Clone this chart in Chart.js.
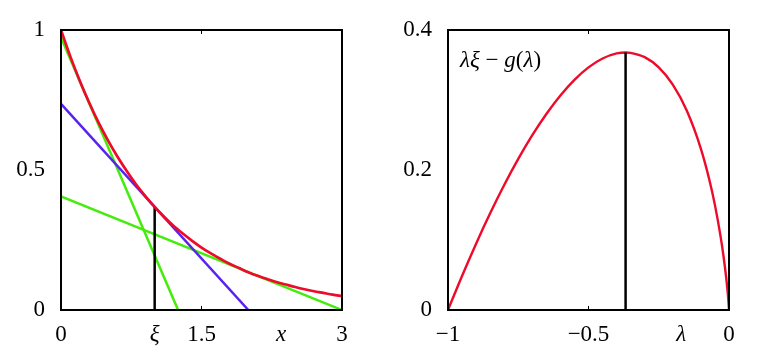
<!DOCTYPE html>
<html>
<head>
<meta charset="utf-8">
<script src="https://cdn.jsdelivr.net/npm/chart.js@4"></script>
<style>
  html, body { margin: 0; padding: 0; background: #fff; }
  body { width: 771px; height: 353px; position: relative; overflow: hidden; }
  .panel { position: absolute; top: 0; height: 353px; }
  #left { left: 0; width: 385px; }
  #right { left: 385px; width: 386px; }
</style>
</head>
<body>
<div class="panel" id="left"><canvas id="cLeft"></canvas></div>
<div class="panel" id="right"><canvas id="cRight"></canvas></div>
<script>
// ---- data: left panel, exp(-x) and its tangent lines ----
const curveX = [0, 0.1, 0.2, 0.3, 0.4, 0.5, 0.6, 0.7, 0.8, 0.9, 1.0, 1.1, 1.2, 1.3, 1.4, 1.5,
  1.6, 1.7, 1.8, 1.9, 2.0, 2.1, 2.2, 2.3, 2.4, 2.5, 2.6, 2.7, 2.8, 2.9, 3.0];
const curveY = [1.000, 0.905, 0.819, 0.741, 0.670, 0.607, 0.549, 0.497, 0.449, 0.407, 0.368, 0.333,
  0.301, 0.273, 0.247, 0.223, 0.202, 0.183, 0.165, 0.150, 0.135, 0.122, 0.111, 0.100, 0.091,
  0.082, 0.074, 0.067, 0.061, 0.055, 0.050];
const greenSteepX = [0, 1.25];
const greenSteepY = [0.973, 0];
const blueX = [0, 2];
const blueY = [0.736, 0];
const greenFlatX = [0, 3];
const greenFlatY = [0.406, 0];
const xiMarkX = [1, 1];
const xiMarkY = [0, 0.368];
const leftTicksX = [0, 1, 1.5, 2.35, 3];
const leftTickLabelsX = ['0', 'ξ', '1.5', 'x', '3'];
const leftTicksY = [0, 0.5, 1];
const leftTickLabelsY = ['0', '0.5', '1'];

// ---- data: right panel, lambda*xi - g(lambda) ----
const lambdaX = [-1, -0.95, -0.9, -0.85, -0.8, -0.75, -0.7, -0.65, -0.6, -0.55, -0.5, -0.45, -0.4,
  -0.368, -0.35, -0.3, -0.25, -0.2, -0.15, -0.1, -0.07, -0.05, -0.03, -0.02, -0.01, -0.005, -0.002, 0];
const lambdaY = [0, 0.0487, 0.0948, 0.1381, 0.1785, 0.2158, 0.2497, 0.2800, 0.3065, 0.3288, 0.3466,
  0.3593, 0.3665, 0.3679, 0.3674, 0.3612, 0.3466, 0.3219, 0.2846, 0.2303, 0.1861, 0.1498, 0.1052,
  0.0782, 0.0461, 0.0265, 0.0124, 0];
const lambdaMarkX = [-0.368, -0.368];
const lambdaMarkY = [0, 0.368];
const rightTicksX = [-1, -0.5, -0.17, 0];
const rightTickLabelsX = ['−1', '−0.5', 'λ', '0'];
const rightTicksY = [0, 0.2, 0.4];
const rightTickLabelsY = ['0', '0.2', '0.4'];

const RED = '#ee0a2a', GREEN = '#44ec0c', BLUE = '#5a22ee';
const SERIF = '"Liberation Serif", "DejaVu Serif", serif';
const FONT_SIZE = 23;

const pts = (xs, ys) => xs.map((x, i) => ({ x, y: ys[i] }));

function line(xs, ys, color, width) {
  return { data: pts(xs, ys), borderColor: color, borderWidth: width,
    pointRadius: 0, fill: false, tension: 0, showLine: true };
}

// box frame + small inward ticks at one x value
function framePlugin(innerTickX) {
  return {
    id: 'frame',
    afterDatasetsDraw(chart) {
      const { ctx, chartArea: a, scales } = chart;
      ctx.save();
      ctx.strokeStyle = '#000';
      ctx.lineWidth = 2;
      ctx.strokeRect(a.left, a.top, a.right - a.left, a.bottom - a.top);
      const px = scales.x.getPixelForValue(innerTickX);
      ctx.lineWidth = 1;
      ctx.beginPath();
      ctx.moveTo(px, a.bottom); ctx.lineTo(px, a.bottom - 4);
      ctx.moveTo(px, a.top); ctx.lineTo(px, a.top + 4);
      ctx.stroke();
      ctx.restore();
    }
  };
}

function makeScales(xMin, xMax, xTicks, xLabels, yMin, yMax, yTicks, yLabels, yWidth, italicX) {
  return {
    x: {
      type: 'linear', min: xMin, max: xMax,
      grid: { display: false }, border: { display: false },
      afterBuildTicks: s => { s.ticks = xTicks.map(v => ({ value: v })); },
      afterFit: s => { s.height = 43; },
      ticks: {
        color: '#000', padding: 3, maxRotation: 0, autoSkip: false,
        font: c => ({ family: SERIF, size: FONT_SIZE, style: italicX.includes(c.index) ? 'italic' : 'normal' }),
        callback: (v, i) => xLabels[i]
      }
    },
    y: {
      type: 'linear', min: yMin, max: yMax,
      grid: { display: false }, border: { display: false },
      afterBuildTicks: s => { s.ticks = yTicks.map(v => ({ value: v })); },
      afterFit: s => { s.width = yWidth; },
      ticks: {
        color: '#000', padding: 8, autoSkip: false,
        font: { family: SERIF, size: FONT_SIZE },
        callback: (v, i) => yLabels[i]
      }
    }
  };
}

const baseOpts = {
  responsive: true, maintainAspectRatio: false, animation: false,
  plugins: { legend: { display: false }, tooltip: { enabled: false } }
};

new Chart(document.getElementById('cLeft'), {
  type: 'scatter',
  data: { datasets: [
    line(greenSteepX, greenSteepY, GREEN, 2.5),
    line(greenFlatX, greenFlatY, GREEN, 2.5),
    line(blueX, blueY, BLUE, 2.5),
    line(xiMarkX, xiMarkY, '#000', 2.5),
    { ...line(curveX, curveY, RED, 2.7), cubicInterpolationMode: 'monotone' }
  ].reverse().map((d, i) => ({ ...d, order: i })) },
  options: {
    ...baseOpts,
    layout: { padding: { left: 0, top: 30, right: 43, bottom: 0 } },
    scales: makeScales(0, 3, leftTicksX, leftTickLabelsX, 0, 1, leftTicksY, leftTickLabelsY, 61, [1, 3])
  },
  plugins: [framePlugin(1.5)]
});

new Chart(document.getElementById('cRight'), {
  type: 'scatter',
  data: { datasets: [
    { ...line(lambdaX, lambdaY, RED, 2.4), cubicInterpolationMode: 'monotone', order: 1 },
    { ...line(lambdaMarkX, lambdaMarkY, '#000', 2.5), order: 0 }
  ] },
  options: {
    ...baseOpts,
    layout: { padding: { left: 0, top: 30, right: 42, bottom: 0 } },
    scales: makeScales(-1, 0, rightTicksX, rightTickLabelsX, 0, 0.4, rightTicksY, rightTickLabelsY, 63, [2])
  },
  plugins: [framePlugin(-0.5), {
    id: 'formula',
    afterDraw(chart) {
      const { ctx, chartArea: a } = chart;
      const parts = [['λξ', 'italic'], [' − ', 'normal'], ['g', 'italic'], ['(', 'normal'], ['λ', 'italic'], [')', 'normal']];
      let x = a.left + 12;
      const y = a.top + 31;
      ctx.save();
      ctx.fillStyle = '#000';
      ctx.textBaseline = 'middle';
      parts.forEach(([t, st]) => {
        ctx.font = `${st} 23px ${SERIF}`;
        ctx.fillText(t, x, y);
        x += ctx.measureText(t).width;
      });
      ctx.restore();
    }
  }]
});
</script>
</body>
</html>
